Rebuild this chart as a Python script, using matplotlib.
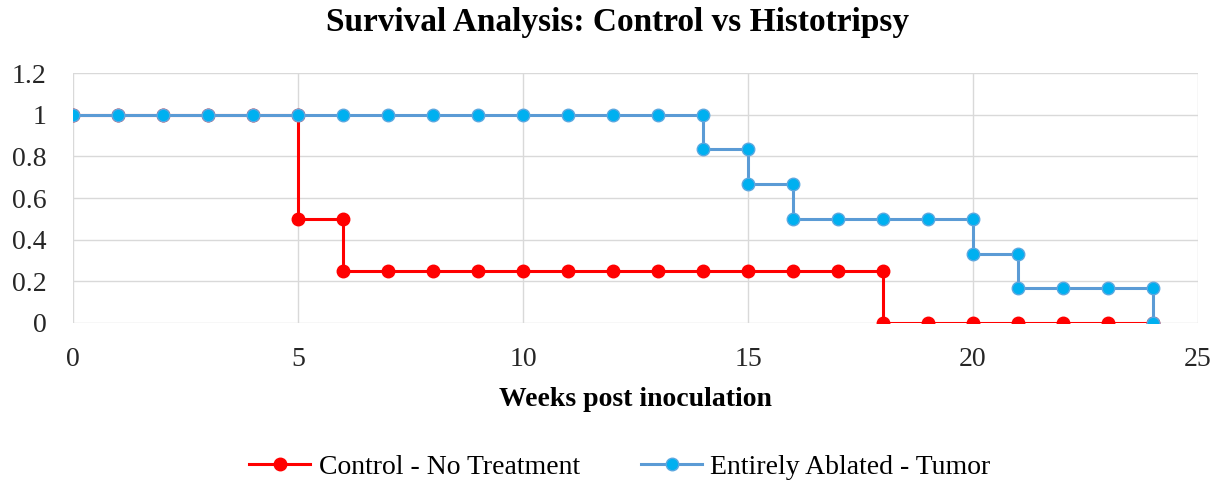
import matplotlib
matplotlib.use("Agg")
import matplotlib.pyplot as plt

plt.rcParams['font.family'] = ['Liberation Serif', 'DejaVu Serif']

# Données
weeks_control = [0, 1, 2, 3, 4, 5, 5, 6, 6, 7, 8, 9, 10, 11, 12, 13, 14, 15, 16, 17, 18, 18, 19, 20, 21, 22, 23, 24]
surv_control = [1, 1, 1, 1, 1, 1, 0.5, 0.5, 0.25, 0.25, 0.25, 0.25, 0.25, 0.25, 0.25, 0.25, 0.25, 0.25, 0.25, 0.25, 0.25, 0, 0, 0, 0, 0, 0, 0]

weeks_ablated = [0, 1, 2, 3, 4, 5, 6, 7, 8, 9, 10, 11, 12, 13, 14, 14, 15, 15, 16, 16, 17, 18, 19, 20, 20, 21, 21, 22, 23, 24, 24]
surv_ablated = [1, 1, 1, 1, 1, 1, 1, 1, 1, 1, 1, 1, 1, 1, 1, 0.833, 0.833, 0.667, 0.667, 0.5, 0.5, 0.5, 0.5, 0.5, 0.333, 0.333, 0.167, 0.167, 0.167, 0.167, 0]

labels = ["Control - No Treatment", "Entirely Ablated - Tumor"]
xticks = [0, 5, 10, 15, 20, 25]
yticks = [0, 0.2, 0.4, 0.6, 0.8, 1, 1.2]
ytick_labels = ["0", "0.2", "0.4", "0.6", "0.8", "1", "1.2"]

W, H = 1220, 484
fig = plt.figure(figsize=(W / 100, H / 100), dpi=100)
ax = fig.add_axes([73 / W, 1 - 323 / H, (1198 - 73) / W, (323 - 73) / H])

ax.plot(weeks_control, surv_control, color="#FF0000", lw=2.2, marker="o", ms=9,
        mfc="#FF0000", mec="#FF0000", label=labels[0], zorder=3)
ax.plot(weeks_ablated, surv_ablated, color="#5B9BD5", lw=2.2, marker="o", ms=9,
        mfc="#00B0F0", mec="#5BA8E0", label=labels[1], zorder=4)

ax.set_xlim(0, 25)
ax.set_ylim(0, 1.2)
ax.set_xticks(xticks)
ax.set_yticks(yticks)
ax.set_yticklabels(ytick_labels)
ax.tick_params(length=0, labelsize=20, colors="#262626")
ax.tick_params(axis="x", pad=17)
ax.tick_params(axis="y", pad=19)
ax.grid(True, color="#D9D9D9", lw=1)
ax.set_axisbelow(True)
for s in ax.spines.values():
    s.set_visible(False)

ax.set_xlabel("Weeks post inoculation", fontsize=20, fontweight="bold")
ax.xaxis.set_label_coords(0.5, (323 - 400) / 250)
ax.xaxis.label.set_va("center")

fig.suptitle("Survival Analysis: Control vs Histotripsy", fontsize=24, fontweight="bold",
             x=618 / W, y=1 - 22 / H, va="center")

fig.legend(loc="center", bbox_to_anchor=(620 / W, 1 - 467 / H), ncol=2, frameon=False,
           fontsize=20, handlelength=2.2, handletextpad=0.3, columnspacing=2.2)

fig.savefig("out.png", dpi=100)
